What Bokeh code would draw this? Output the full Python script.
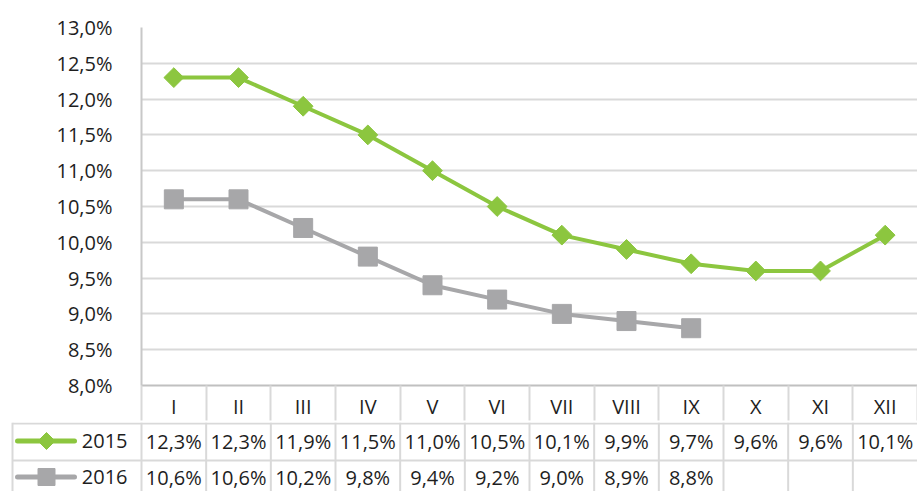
import math
from bokeh.plotting import figure
from bokeh.models import Range1d, FixedTicker, CustomJSTickFormatter
from bokeh.embed import file_html
from bokeh.resources import INLINE
from bokeh.core.properties import value

# ---- data ----
months = ["I", "II", "III", "IV", "V", "VI", "VII", "VIII", "IX", "X", "XI", "XII"]
vals_2015 = [12.3, 12.3, 11.9, 11.5, 11.0, 10.5, 10.1, 9.9, 9.7, 9.6, 9.6, 10.1]
vals_2016 = [10.6, 10.6, 10.2, 9.8, 9.4, 9.2, 9.0, 8.9, 8.8]
series_names = ["2015", "2016"]
y_ticks = [8.0, 8.5, 9.0, 9.5, 10.0, 10.5, 11.0, 11.5, 12.0, 12.5, 13.0]

GREEN = "#8cc63f"
GRAY = "#a7a7a9"
GRID = "#d9d9d9"
TXT = "#1e1e1e"
FONT = "Open Sans"
FS = "20px"

W_TOTAL = 917
LEFT = 141
CW = (W_TOTAL - LEFT) / 12.0  # pixel width of one category

def fmt(v):
    return f"{v:.1f}".replace(".", ",") + "%"

x15 = list(range(1, len(vals_2015) + 1))
x16 = list(range(1, len(vals_2016) + 1))

# ---- chart figure ----
p = figure(width=W_TOTAL, height=422, x_range=Range1d(0.5, 12.5),
           y_range=Range1d(y_ticks[0], y_ticks[-1]),
           output_backend="svg", toolbar_location=None,
           min_border_left=LEFT, min_border_right=0,
           min_border_top=27, min_border_bottom=35)
p.outline_line_color = None
p.background_fill_color = "white"
p.border_fill_color = "white"
p.xgrid.visible = False
p.ygrid.grid_line_color = GRID
p.ygrid.grid_line_width = 2

p.yaxis.ticker = FixedTicker(ticks=y_ticks, minor_ticks=[])
p.yaxis.formatter = CustomJSTickFormatter(code="return tick.toFixed(1).replace('.', ',') + '%'")
p.yaxis.major_tick_in = 0
p.yaxis.major_tick_out = 0
p.yaxis.minor_tick_line_color = None
p.yaxis.axis_line_color = "#c8c8c8"
p.yaxis.axis_line_width = 2
p.yaxis.major_label_standoff = 29
p.yaxis.major_label_text_font = FONT
p.yaxis.major_label_text_font_size = FS
p.yaxis.major_label_text_color = TXT

p.xaxis.ticker = FixedTicker(ticks=x15, minor_ticks=[i + 0.5 for i in range(0, 13)])
p.xaxis.formatter = CustomJSTickFormatter(args=dict(months=months),
                                          code="return months[Math.round(tick) - 1]")
p.xaxis.major_tick_in = 0
p.xaxis.major_tick_out = 0
p.xaxis.minor_tick_in = 0
p.xaxis.minor_tick_out = 35
p.xaxis.minor_tick_line_color = GRID
p.xaxis.minor_tick_line_width = 2
p.xaxis.axis_line_color = "#c0c0c0"
p.xaxis.axis_line_width = 2
p.xaxis.major_label_standoff = -28
p.xaxis.major_label_text_font = FONT
p.xaxis.major_label_text_font_size = FS
p.xaxis.major_label_text_color = TXT

p.line(x16, vals_2016, line_color=GRAY, line_width=4)
p.scatter(x16, vals_2016, marker="square", size=19, fill_color=GRAY, line_color=GRAY)
p.line(x15, vals_2015, line_color=GREEN, line_width=4)
p.scatter(x15, vals_2015, marker="square", angle=math.pi / 4, size=14,
          fill_color=GREEN, line_color=GREEN)

# ---- data table figure ----
def px(page_x):
    return 0.5 + (page_x - LEFT) / CW

TH = 69
t = figure(width=W_TOTAL, height=TH, x_range=Range1d(px(0), 12.5),
           y_range=Range1d(0, TH), output_backend="svg", toolbar_location=None,
           min_border=0)
t.outline_line_color = None
t.axis.visible = False
t.grid.visible = False
t.background_fill_color = "white"
t.border_fill_color = "white"

XL = px(12)
ROW_TOP = TH - 1
ROW_MID = TH - 38
t.segment(x0=[XL, XL], y0=[ROW_TOP, ROW_MID], x1=[12.5, 12.5], y1=[ROW_TOP, ROW_MID],
          line_color=GRID, line_width=2)
vx = [XL] + [i + 0.5 for i in range(0, 12)]
t.segment(x0=vx, y0=[0] * len(vx), x1=vx, y1=[TH] * len(vx), line_color=GRID, line_width=2)

Y15 = TH - 18.5
Y16 = TH - 54.5
t.text(x=x15, y=[Y15] * len(x15), text=[fmt(v) for v in vals_2015],
       text_align="center", text_baseline="middle", text_font=value(FONT),
       text_font_size=FS, text_color=TXT)
t.text(x=x16, y=[Y16] * len(x16), text=[fmt(v) for v in vals_2016],
       text_align="center", text_baseline="middle", text_font=value(FONT),
       text_font_size=FS, text_color=TXT)

LX0, LX1, LXM = px(17), px(74), px(46)
t.segment(x0=[LX0], y0=[Y15], x1=[LX1], y1=[Y15], line_color=GREEN, line_width=5, line_cap="round")
t.scatter([LXM], [Y15], marker="square", angle=math.pi / 4, size=12, fill_color=GREEN, line_color=GREEN)
t.segment(x0=[LX0], y0=[Y16], x1=[LX1], y1=[Y16], line_color=GRAY, line_width=5, line_cap="round")
t.scatter([LXM], [Y16], marker="square", size=17, fill_color=GRAY, line_color=GRAY)
t.text(x=[px(127)] * 2, y=[Y15, Y16], text=series_names,
       text_align="right", text_baseline="middle", text_font=value(FONT),
       text_font_size=FS, text_color=TXT)

open("out.html", "w").write(file_html([p, t], INLINE))
